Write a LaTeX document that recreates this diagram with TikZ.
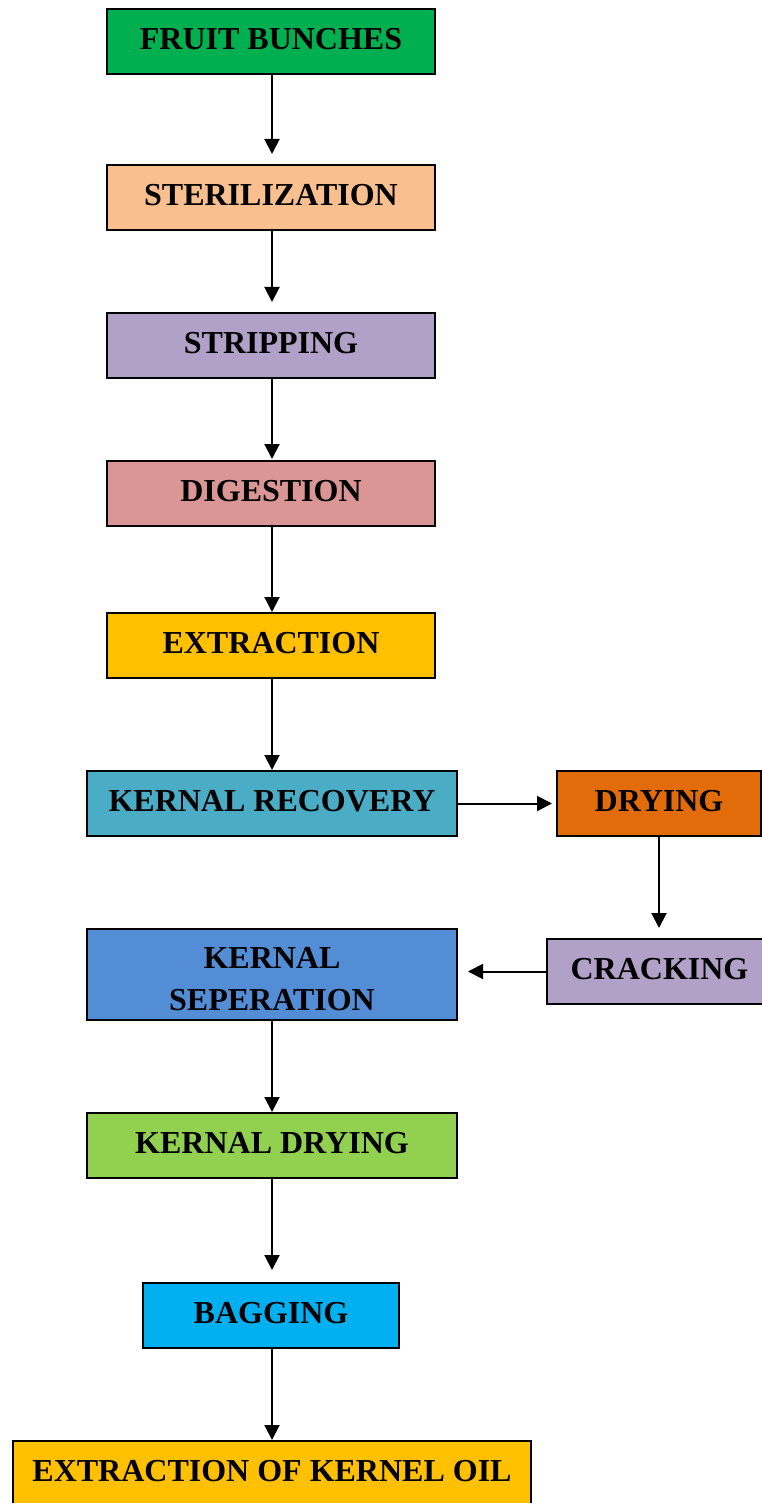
\documentclass[tikz,border=0pt]{standalone}
\usepackage{fontspec}
\setmainfont{Liberation Serif}
\usetikzlibrary{arrows.meta}
\definecolor{cGreen}{HTML}{00B050}
\definecolor{cPeach}{HTML}{F9BF8F}
\definecolor{cLilac}{HTML}{B1A0C7}
\definecolor{cRose}{HTML}{DA9694}
\definecolor{cAmber}{HTML}{FFC000}
\definecolor{cTeal}{HTML}{4BACC6}
\definecolor{cOrange}{HTML}{E26B0A}
\definecolor{cBlue}{HTML}{538DD5}
\definecolor{cLime}{HTML}{92D050}
\definecolor{cSky}{HTML}{00B0F0}
\tikzset{
  stepbox/.style={draw=black, line width=2pt, rectangle, inner sep=0pt, outer sep=1pt,
    font=\fontsize{32}{42}\selectfont\bfseries, align=center, text=black, text depth=5pt},
  flow/.style={line width=2pt, -{Triangle[length=15pt,width=15pt]}},
}
\begin{document}
\begin{tikzpicture}[x=1pt,y=-1pt]
\useasboundingbox (0,0) rectangle (761,1503);
\node[stepbox, fill=cGreen, minimum width=328pt, minimum height=65pt] (fb) at (271,41.5) {FRUIT BUNCHES};
\node[stepbox, fill=cPeach, minimum width=328pt, minimum height=65pt] (st) at (271,197.5) {STERILIZATION};
\node[stepbox, fill=cLilac, minimum width=328pt, minimum height=65pt] (sp) at (271,345.5) {STRIPPING};
\node[stepbox, fill=cRose, minimum width=328pt, minimum height=65pt] (dg) at (271,493.5) {DIGESTION};
\node[stepbox, fill=cAmber, minimum width=328pt, minimum height=65pt] (ex) at (271,645.5) {EXTRACTION};
\node[stepbox, fill=cTeal, minimum width=370pt, minimum height=65pt] (kr) at (272,803.5) {KERNAL RECOVERY};
\node[stepbox, fill=cOrange, minimum width=204pt, minimum height=65pt] (dr) at (659,803.5) {DRYING};
\node[stepbox, fill=cLilac, minimum width=225pt, minimum height=65pt] (cr) at (659.5,971.5) {CRACKING};
\node[stepbox, fill=cBlue, minimum width=370pt, minimum height=91pt, text depth=0pt, text height=72pt] (ks) at (272,974.5) {KERNAL\\SEPERATION};
\node[stepbox, fill=cLime, minimum width=370pt, minimum height=65pt] (kd) at (272,1145.5) {KERNAL DRYING};
\node[stepbox, fill=cSky, minimum width=256pt, minimum height=65pt] (bg) at (271,1315.5) {BAGGING};
\node[stepbox, fill=cAmber, minimum width=518pt, minimum height=65pt] (ko) at (272,1473.5) {EXTRACTION OF KERNEL OIL};

\draw[flow, shorten >=10pt] (fb.south -| 272,0) -- (st.north -| 272,0);
\draw[flow, shorten >=10pt] (st.south -| 272,0) -- (sp.north -| 272,0);
\draw[flow, shorten >=1pt] (sp.south -| 272,0) -- (dg.north -| 272,0);
\draw[flow] (dg.south -| 272,0) -- (ex.north -| 272,0);
\draw[flow] (ex.south -| 272,0) -- (kr.north);
\draw[flow, shorten >=4pt] (kr.east) -- (dr.west |- kr.east);
\draw[flow, shorten >=10pt] (dr.south) -- (cr.north -| dr.south);
\draw[flow, shorten >=10pt] (cr.west) -- (ks.east |- cr.west);
\draw[flow] (ks.south) -- (kd.north);
\draw[flow, shorten >=12pt] (kd.south) -- (bg.north -| kd.south);
\draw[flow] (bg.south -| 272,0) -- (ko.north);
\end{tikzpicture}
\end{document}
